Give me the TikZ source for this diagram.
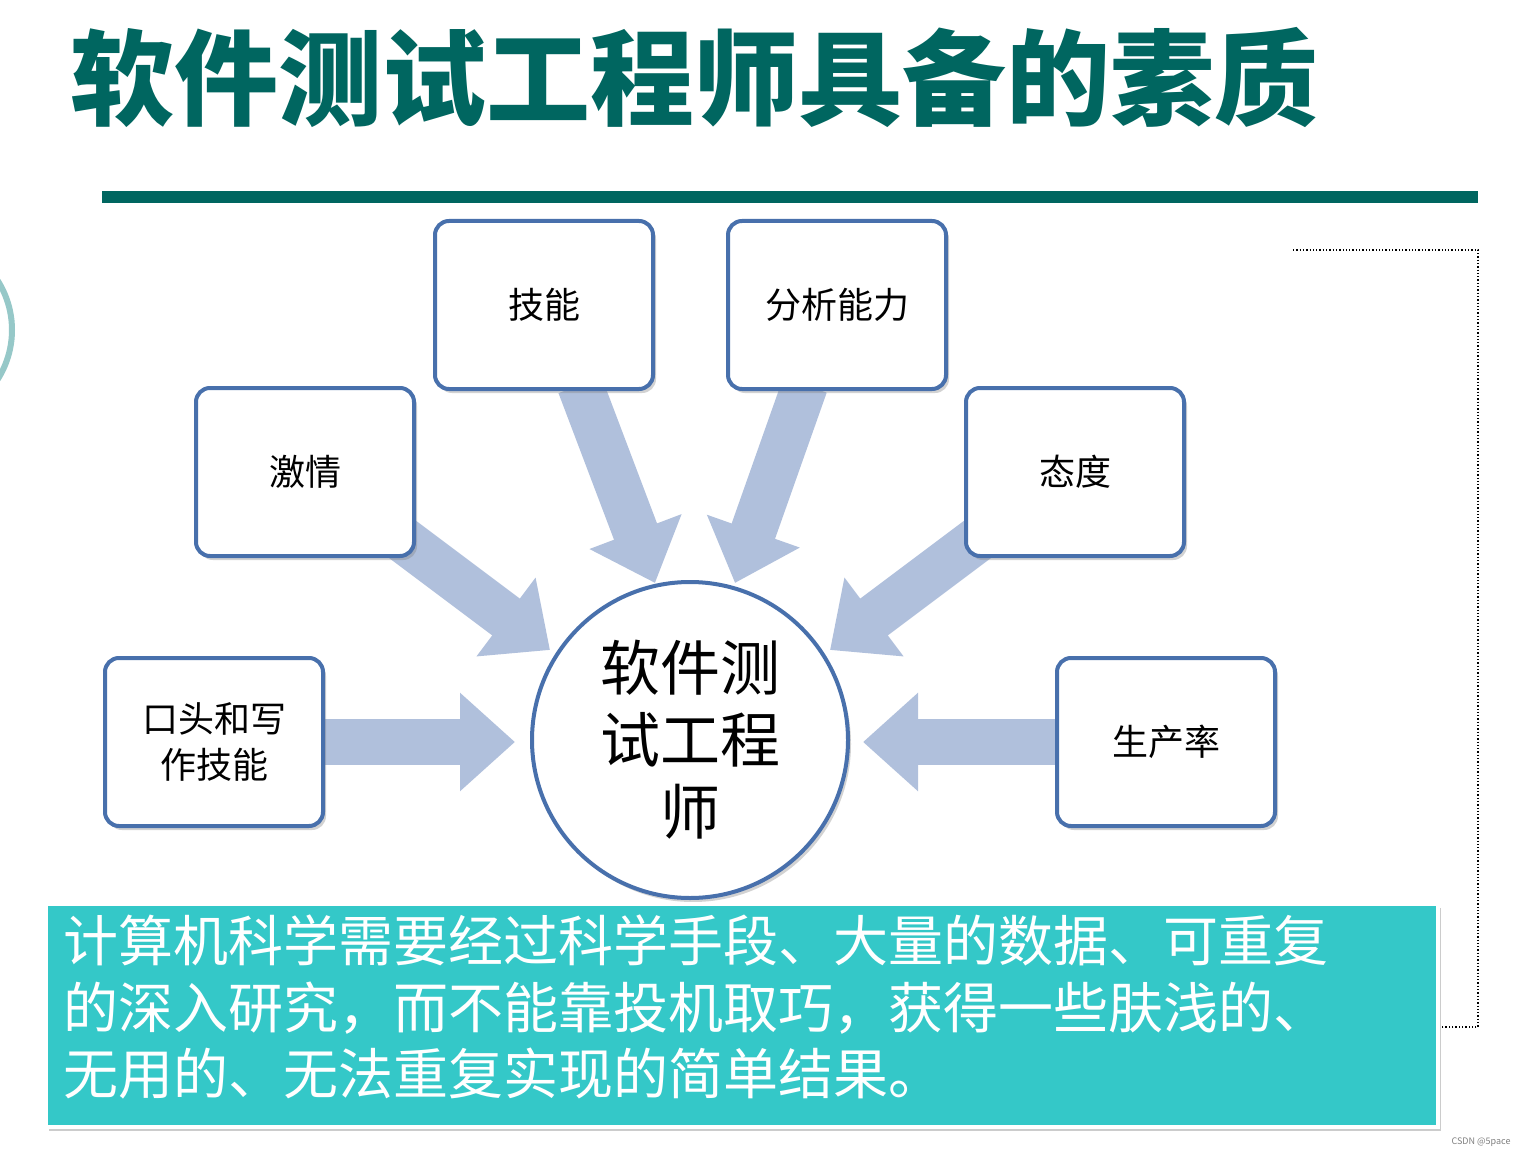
\documentclass[tikz,border=0pt]{standalone}
\usepackage{fontspec}
\setmainfont{Noto Sans CJK SC}
\newfontfamily\cjk{Noto Sans CJK SC}
\usetikzlibrary{arrows.meta,shadows}
\definecolor{teal1}{RGB}{0,102,96}
\definecolor{boxline}{RGB}{72,112,172}
\definecolor{arrowc}{RGB}{176,192,220}
\definecolor{cyanb}{RGB}{52,200,200}
\definecolor{ltteal}{RGB}{150,200,200}
\tikzset{
 qbox/.style={draw=boxline,line width=4pt,rounded corners=14pt,fill=white,minimum width=218pt,minimum height=168pt,align=center,font=\fontsize{36}{46}\selectfont,drop shadow={shadow xshift=3pt,shadow yshift=-4pt,opacity=0.35}},
 fat/.style={draw=arrowc,line width=46pt,-{Triangle[length=55pt,width=95pt]}},
}
\begin{document}
\begin{tikzpicture}[x=1pt,y=-1pt]
\useasboundingbox (0,0) rectangle (1528,1158);
\fill[white] (0,0) rectangle (1528,1158);
\draw[ltteal,line width=6pt] (-80,330) circle (92);
\node[font=\fontsize{104}{110}\selectfont\bfseries,text=teal1,anchor=west,inner sep=0] (title) at (70,78) {软件测试工程师具备的素质};
\fill[teal1] (102,191) rectangle (1478,203);
\draw[dotted,line width=1.3pt] (1293,250) -- (1478,250) -- (1478,1027) -- (1437,1027);
% arrows
\coordinate (a1s) at (325,742); \coordinate (a1e) at (515,742);
\coordinate (a2s) at (1055,742); \coordinate (a2e) at (863,742);
\coordinate (a3s) at (390,530); \coordinate (a3e) at (550,650);
\coordinate (a4s) at (580,385); \coordinate (a4e) at (655,583);
\coordinate (a5s) at (805,385); \coordinate (a5e) at (735,583);
\coordinate (a6s) at (990,530); \coordinate (a6e) at (830,650);
\foreach \s/\e in {a1s/a1e,a2s/a2e,a3s/a3e,a4s/a4e,a5s/a5e,a6s/a6e} \draw[fat] (\s) -- (\e);
\node[qbox] (jn) at (544,305) {技能};
\node[qbox] (fx) at (837,305) {分析能力};
\node[qbox] (jq) at (305,472) {激情};
\node[qbox] (td) at (1075,472) {态度};
\node[qbox] (kt) at (214,742) {口头和写\\作技能};
\node[qbox] (sc) at (1166,742) {生产率};
\node[circle,draw=boxline,line width=4pt,fill=white,minimum size=316pt,align=center,font=\fontsize{60}{72}\selectfont,drop shadow={shadow xshift=3pt,shadow yshift=-4pt,opacity=0.35}] (c) at (690,740) {软件测\\试工程\\师};
\node[draw=white,line width=4pt,fill=cyanb,minimum width=1392pt,minimum height=223pt,anchor=north west,drop shadow={shadow xshift=3pt,shadow yshift=-4pt,opacity=0.4}] (bot) at (44,902) {};
\node[anchor=north west,align=left,text=white,inner sep=0,font=\fontsize{55}{66.5}\selectfont] (bt) at (63,915) {计算机科学需要经过科学手段、大量的数据、可重复\\的深入研究，而不能靠投机取巧，获得一些肤浅的、\\无用的、无法重复实现的简单结果。};
\node[anchor=east,text=gray,font=\fontsize{9}{10}\selectfont] (wm) at (1514,1142) {CSDN @5pace};
\end{tikzpicture}
\end{document}
